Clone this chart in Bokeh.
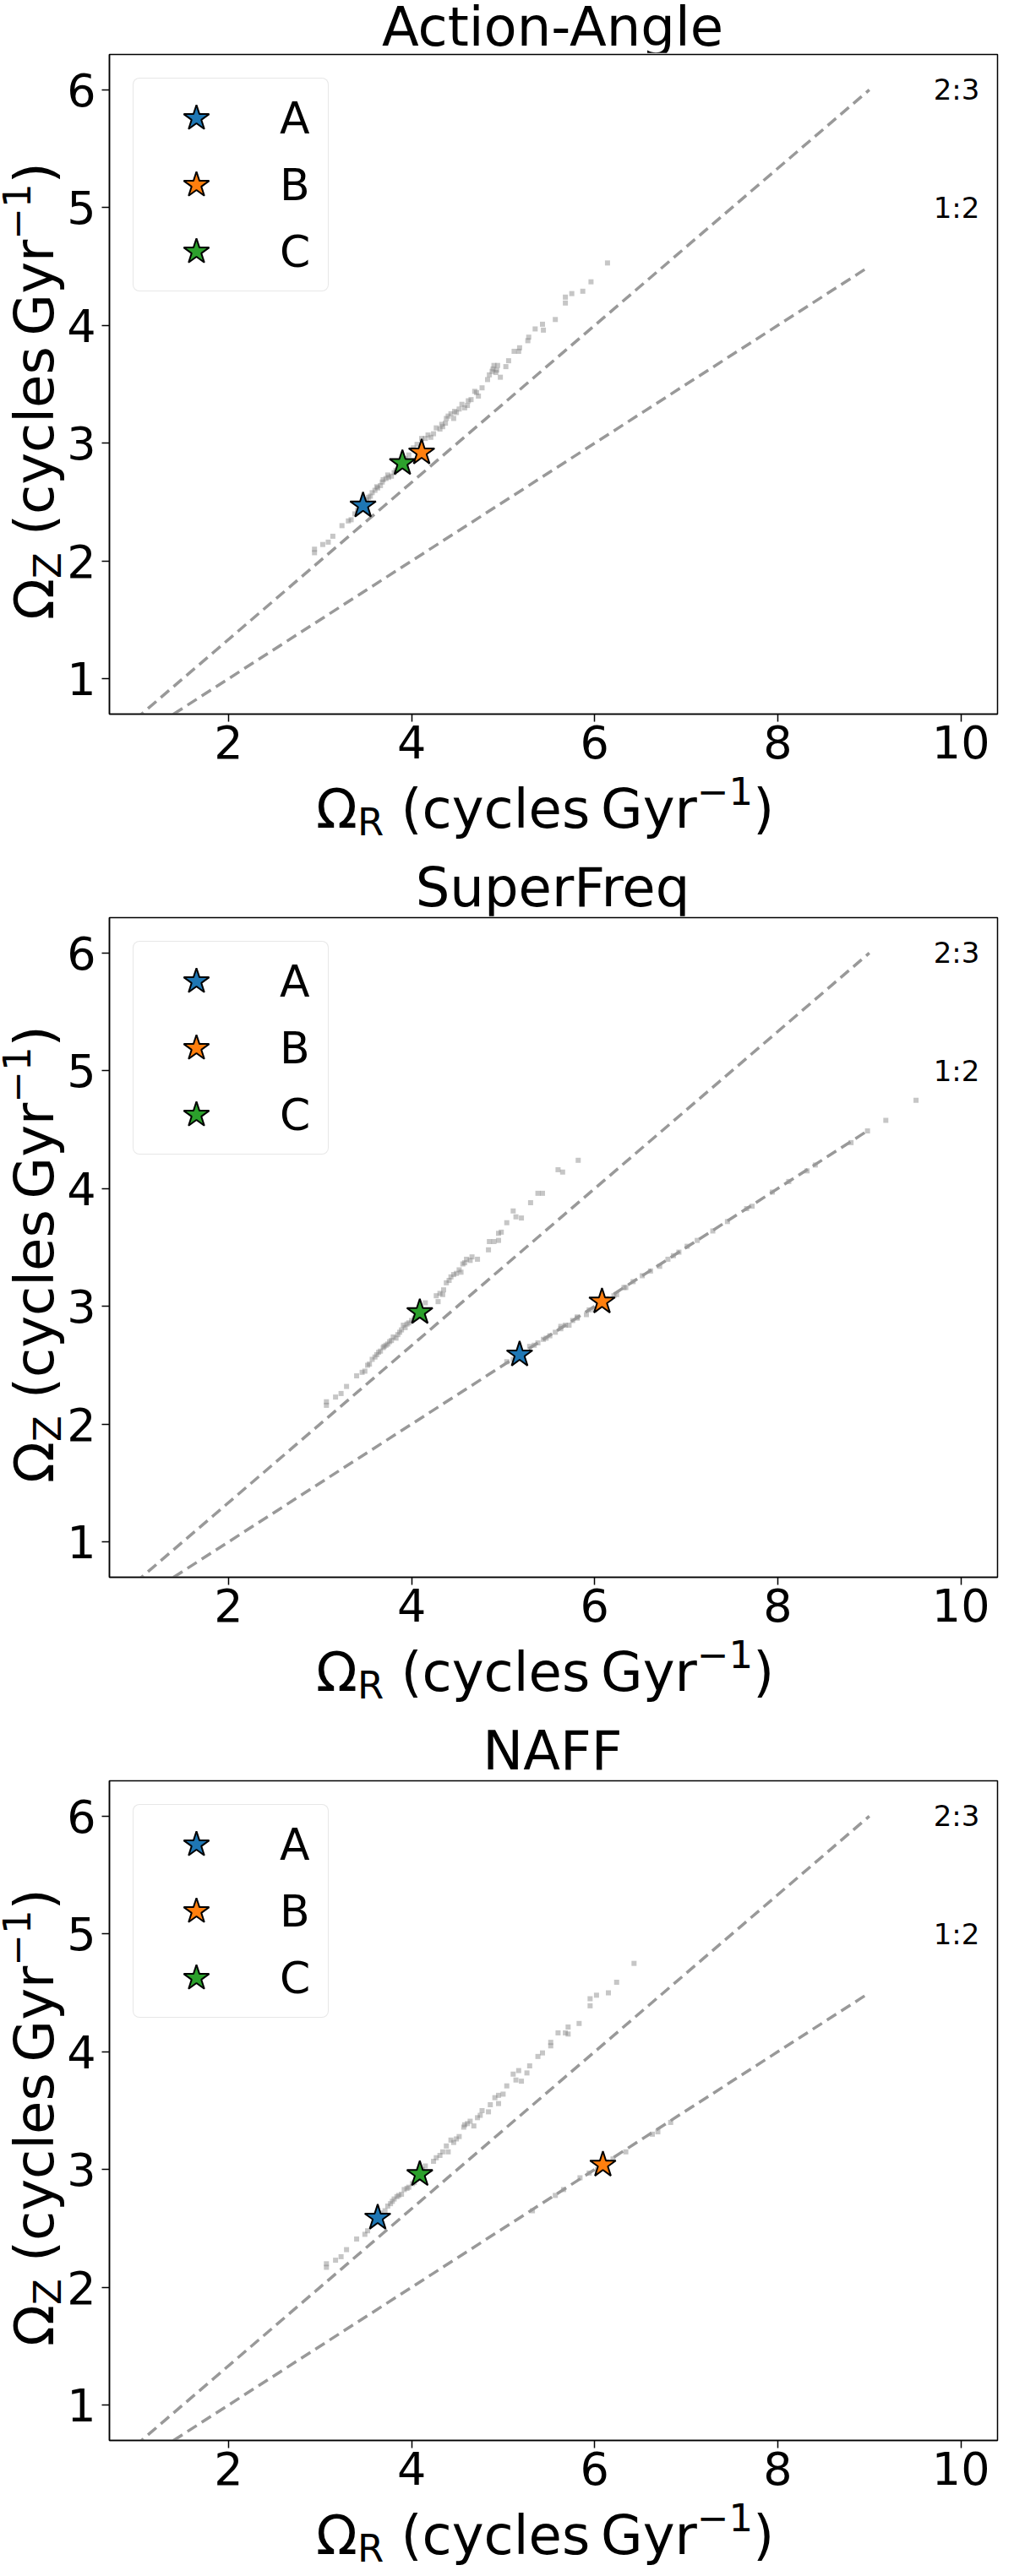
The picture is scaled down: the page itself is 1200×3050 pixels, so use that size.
from bokeh.core.properties import value
from bokeh.embed import file_html
from bokeh.layouts import column, row
from bokeh.models import Div, FixedTicker
from bokeh.plotting import figure
from bokeh.resources import INLINE

# ---- data ----
titles = ["Action-Angle", "SuperFreq", "NAFF"]
star_names = ["A", "B", "C"]
star_colors = ["#1f77b4", "#ff7f0e", "#2ca02c"]

aa_x = [6.14, 5.96, 5.87, 5.75, 5.68, 5.68, 5.57, 5.43, 5.35, 5.44, 5.28, 5.27,
        5.18, 5.12, 5.17, 5.06, 4.94, 4.89, 4.92, 4.97, 5.03, 4.83, 4.77, 4.73,
        4.69, 4.65, 4.61, 4.55, 4.52, 4.49, 4.43, 4.38, 4.46, 4.37, 4.34, 4.31,
        4.24, 4.21, 4.15, 4.11, 4.02, 3.97, 3.93, 3.86, 3.81, 3.75, 3.69, 3.63,
        3.57, 3.51, 3.45, 3.38, 3.34, 3.31, 3.24, 3.14, 3.09, 3.03, 2.94, 2.94,
        3.66, 3.72, 3.78, 3.55, 3.48, 3.60, 4.40, 4.58, 4.85, 4.90,
        3.41, 3.53, 3.62, 3.68, 3.74, 3.83, 3.89, 4.06, 4.18, 4.27, 4.33, 4.47,
        4.62, 4.71, 4.88, 4.93]
aa_y = [4.53, 4.37, 4.29, 4.27, 4.24, 4.19, 4.05, 4.01, 3.97, 3.96, 3.90, 3.87,
        3.81, 3.78, 3.78, 3.70, 3.66, 3.63, 3.60, 3.56, 3.65, 3.54, 3.47, 3.40,
        3.44, 3.37, 3.32, 3.33, 3.29, 3.26, 3.25, 3.21, 3.21, 3.17, 3.14, 3.12,
        3.08, 3.05, 3.04, 3.04, 2.96, 2.90, 2.87, 2.80, 2.75, 2.71, 2.69, 2.62,
        2.58, 2.52, 2.47, 2.40, 2.35, 2.34, 2.30, 2.21, 2.16, 2.14, 2.10, 2.07,
        2.64, 2.70, 2.72, 2.55, 2.50, 2.60, 3.23, 3.30, 3.58, 3.66,
        2.43, 2.54, 2.63, 2.67, 2.73, 2.77, 2.82, 2.99, 3.07, 3.13, 3.16, 3.27,
        3.36, 3.43, 3.61, 3.62]
aa_stars_x = [3.47, 4.11, 3.90]
aa_stars_y = [2.47, 2.92, 2.83]

sf_x = [5.82, 5.60, 5.65, 5.38, 5.43, 5.30, 5.11, 5.14, 5.20, 5.04, 4.98, 4.95,
        4.90, 4.95, 4.85, 4.84, 4.72, 4.66, 4.60, 4.56, 4.58, 4.64, 4.54, 4.49,
        4.43, 4.41, 4.38, 4.35, 4.31, 4.27, 4.34, 4.29, 4.15, 4.12, 4.03, 3.97,
        3.91, 3.87, 3.83, 3.78, 3.74, 3.69, 3.64, 3.60, 3.57, 3.54, 3.49, 3.46,
        3.40, 3.29, 3.23, 3.17, 3.07, 3.07, 3.85, 3.80, 3.72, 3.66, 3.95,
        3.52, 3.62, 3.70, 3.76, 3.89, 3.93, 4.00, 4.46, 4.52,
        5.04, 5.11, 5.18, 5.22, 5.29, 5.38, 5.44, 5.51, 5.57, 5.63, 5.63, 5.72,
        5.81, 5.81, 5.91, 5.94, 6.00, 6.21, 6.24, 6.32, 6.34, 6.61, 6.71, 6.80,
        6.92, 7.01, 7.29, 7.45, 7.66, 7.72, 7.94, 8.12, 8.32, 8.41, 8.80, 8.98,
        9.18, 9.51, 5.34, 5.47, 5.68, 5.76, 6.05, 6.12, 6.42, 6.52, 6.86, 7.12]
sf_y = [4.24, 4.16, 4.14, 3.96, 3.96, 3.88, 3.81, 3.76, 3.75, 3.71, 3.63, 3.62,
        3.55, 3.56, 3.55, 3.48, 3.40, 3.42, 3.40, 3.36, 3.37, 3.39, 3.29, 3.28,
        3.25, 3.22, 3.20, 3.14, 3.11, 3.09, 3.10, 3.04, 3.03, 2.97, 2.90, 2.86,
        2.84, 2.78, 2.73, 2.71, 2.68, 2.65, 2.61, 2.57, 2.55, 2.51, 2.45, 2.44,
        2.41, 2.32, 2.26, 2.23, 2.19, 2.16, 2.76, 2.74, 2.67, 2.62, 2.85,
        2.50, 2.59, 2.66, 2.70, 2.80, 2.82, 2.88, 3.27, 3.31,
        2.53, 2.55, 2.59, 2.61, 2.66, 2.69, 2.72, 2.75, 2.78, 2.81, 2.83, 2.84,
        2.90, 2.91, 2.93, 2.97, 2.97, 3.09, 3.10, 3.16, 3.16, 3.30, 3.34, 3.40,
        3.46, 3.51, 3.64, 3.72, 3.83, 3.85, 3.97, 4.06, 4.15, 4.20, 4.39, 4.49,
        4.58, 4.75, 2.67, 2.73, 2.84, 2.88, 3.02, 3.06, 3.21, 3.26, 3.43, 3.56]
sf_stars_x = [5.18, 6.08, 4.09]
sf_stars_y = [2.59, 3.04, 2.95]

naff_x = [6.43, 6.24, 6.15, 6.02, 5.95, 5.95, 5.83, 5.71, 5.68, 5.60, 5.71, 5.52,
          5.52, 5.43, 5.38, 5.29, 5.17, 5.11, 5.26, 5.14, 5.20, 5.04, 5.00, 4.95,
          4.91, 4.95, 4.86, 4.84, 4.77, 4.75, 4.64, 4.58, 4.68, 4.57, 4.61, 4.52,
          4.49, 4.43, 4.38, 4.40, 4.34, 4.27, 4.24, 4.15, 4.12, 4.03, 3.97, 3.92,
          3.89, 3.84, 3.81, 3.77, 3.74, 3.71, 3.52, 3.49, 3.40, 3.29, 3.23, 3.17,
          3.07, 3.07, 3.66, 3.60, 3.79, 3.86, 3.95, 4.01, 4.06, 4.31, 4.46, 4.72,
          5.32, 5.57, 5.66, 5.84, 5.94, 6.03, 6.20, 6.34, 6.63, 6.69, 6.83]
naff_y = [4.75, 4.59, 4.50, 4.48, 4.45, 4.39, 4.24, 4.21, 4.16, 4.16, 4.15, 4.08,
          4.05, 3.99, 3.96, 3.88, 3.84, 3.81, 3.82, 3.76, 3.75, 3.71, 3.64, 3.63,
          3.61, 3.56, 3.55, 3.49, 3.50, 3.46, 3.41, 3.38, 3.37, 3.36, 3.39, 3.28,
          3.26, 3.25, 3.20, 3.15, 3.15, 3.10, 3.07, 3.03, 3.00, 2.89, 2.85, 2.83,
          2.79, 2.77, 2.75, 2.71, 2.69, 2.65, 2.48, 2.45, 2.41, 2.32, 2.26, 2.23,
          2.20, 2.17, 2.63, 2.56, 2.73, 2.78, 2.84, 2.88, 2.93, 3.12, 3.23, 3.44,
          2.65, 2.78, 2.83, 2.93, 2.97, 3.00, 3.09, 3.15, 3.30, 3.32, 3.40]
naff_stars_x = [3.63, 6.09, 4.09]
naff_stars_y = [2.59, 3.04, 2.96]

# resonance lines Omega_z / Omega_R
res_ratios = [2 / 3, 1 / 2]
res_labels = ["2:3", "1:2"]
res_x = [0, 9]
res_label_x = [9.7, 9.7]
res_label_y = [6, 5]

x_ticks = [2, 4, 6, 8, 10]
y_ticks = [1, 2, 3, 4, 5, 6]
x_lim = (0.7, 10.4)
y_lim = (0.7, 6.3)

FONT = "DejaVu Sans"
YLAB_W = 76          # div holding the rotated y label
LEFT, RIGHT = 52, 4  # figure borders around the frame
FRAME_W, FRAME_H = 1052, 781
FIG_TOP, FIG_BOTTOM = 2, 80
FIG_W = LEFT + FRAME_W + RIGHT
FIG_H = FIG_TOP + FRAME_H + FIG_BOTTOM

TEXT_CSS = f"font-family:'{FONT}'; font-size:64px; line-height:64px; white-space:nowrap; color:black;"
SUB = "font-size:45px; line-height:0; vertical-align:-9px;"
SUP = "font-size:45px; line-height:0; vertical-align:27px;"


def label_html(sub):
    return (f"\u03a9<sub style='{SUB}'>{sub}</sub> (cycles\u2009Gyr"
            f"<sup style='{SUP}'>\u22121</sup>)")


def make_panel(title, xs, ys, sx, sy, title_h, title_pad, xlab_h):
    p = figure(width=FIG_W, height=FIG_H, x_range=x_lim, y_range=y_lim,
               output_backend="svg", toolbar_location=None, title=None,
               min_border_left=LEFT, min_border_right=RIGHT,
               min_border_top=FIG_TOP, min_border_bottom=FIG_BOTTOM)
    p.grid.visible = False
    p.outline_line_color = "black"
    p.outline_line_width = 1.5

    for ax, ticks, standoff in ((p.xaxis, x_ticks, 4), (p.yaxis, y_ticks, 7)):
        ax.ticker = FixedTicker(ticks=ticks)
        ax.minor_tick_line_color = None
        ax.major_tick_in = 0
        ax.major_tick_out = 9
        ax.major_tick_line_width = 1.5
        ax.axis_line_width = 1.5
        ax.axis_line_color = "black"
        ax.major_label_text_font = FONT
        ax.major_label_text_font_size = "54px"
        ax.major_label_text_color = "black"
        ax.major_label_standoff = standoff

    p.scatter(xs, ys, marker="square", size=6, color="gray", alpha=0.45,
              line_color=None)

    for r in res_ratios:
        p.line(res_x, [r * x for x in res_x], line_color="#999999",
               line_width=3.5, line_dash="13 7")
    p.text(x=res_label_x, y=res_label_y, text=res_labels,
           text_font=value(FONT), text_font_size="34px",
           text_baseline="alphabetic", text_align="left", text_color="black")

    for name, col, x, y in zip(star_names, star_colors, sx, sy):
        p.scatter([x], [y], marker="star", size=32, fill_color=col,
                  line_color="black", line_width=2, legend_label=name)

    lg = p.legend
    lg.location = "top_left"
    lg.margin = 28
    lg.padding = 7
    lg.spacing = 0
    lg.glyph_width = 134
    lg.glyph_height = 79
    lg.label_height = 79
    lg.label_width = 50
    lg.label_standoff = 32
    lg.label_text_font = FONT
    lg.label_text_font_size = "52px"
    lg.label_text_color = "black"
    lg.border_line_color = "#d0d0d0"
    lg.border_line_width = 1.5
    lg.background_fill_alpha = 0.8
    if "border_radius" in lg[0].properties():
        lg.border_radius = 8

    title_div = Div(
        text=(f"<div style=\"{TEXT_CSS} line-height:46px; padding-top:{title_pad}px;"
              f" margin-left:{YLAB_W + LEFT}px; width:{FRAME_W}px; text-align:center;\">"
              f"{title}</div>"),
        width=YLAB_W + FIG_W, height=title_h, margin=0,
        styles={"overflow": "visible"})
    ylab_div = Div(
        text=(f"<div style=\"{TEXT_CSS} transform-origin:0 0;"
              f" transform:translate(9px, 672px) rotate(-90deg);\">{label_html('Z')}</div>"),
        width=YLAB_W, height=FIG_H, margin=0, styles={"overflow": "visible"})
    xlab_div = Div(
        text=(f"<div style=\"{TEXT_CSS} padding-left:374px; padding-top:1px;\">"
              f"{label_html('R')}</div>"),
        width=YLAB_W + FIG_W, height=xlab_h, margin=0,
        styles={"overflow": "visible"})
    return column(title_div, row(ylab_div, p, spacing=0), xlab_div, spacing=0)


panel1 = make_panel(titles[0], aa_x, aa_y, aa_stars_x, aa_stars_y, 62, 9, 103)
panel2 = make_panel(titles[1], sf_x, sf_y, sf_stars_x, sf_stars_y, 56, 0, 103)
panel3 = make_panel(titles[2], naff_x, naff_y, naff_stars_x, naff_stars_y, 56, 0, 72)

page = column(panel1, panel2, panel3, spacing=0)
open("out.html", "w").write(file_html(page, INLINE))
